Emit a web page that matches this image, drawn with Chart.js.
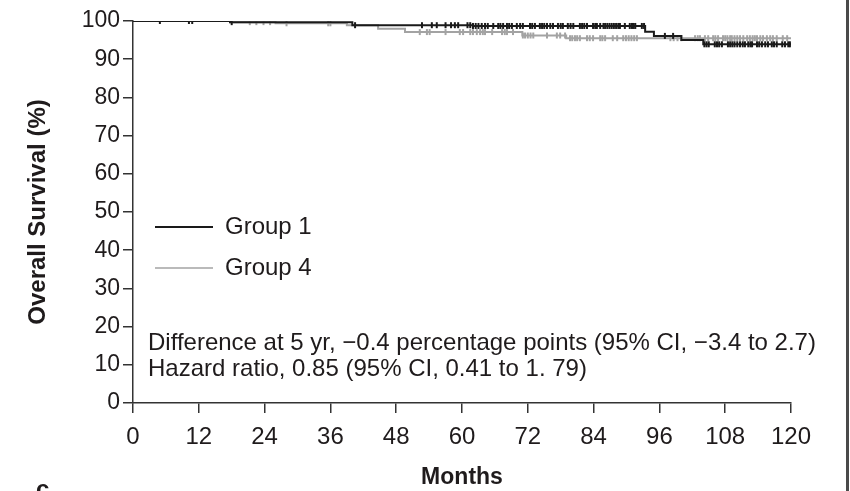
<!DOCTYPE html>
<html>
<head>
<meta charset="utf-8">
<script src="https://cdn.jsdelivr.net/npm/chart.js@4.4.1/dist/chart.umd.min.js"></script>
<style>
  html, body { margin: 0; padding: 0; background: #fff; }
  #wrap { width: 850px; height: 491px; position: relative; }
</style>
</head>
<body>
<div id="wrap"><canvas id="survChart"></canvas></div>
<script>
// Kaplan-Meier steps (months, % surviving)
const group1Months = [0, 17.7, 40, 62, 93.4, 95, 100, 104];
const group1Surv   = [100, 99.7, 98.9, 98.7, 97.2, 96.1, 95.0, 93.9];
const group4Months = [0, 17.7, 26, 39, 44.7, 49.6, 71, 79];
const group4Surv   = [100, 99.7, 99.4, 98.9, 98.0, 97.1, 96.2, 95.5];
const followUpEnd = 120;

// censoring marks (months)
const group1Censored = [4.9, 10.2, 10.8, 18, 40.5, 52.7, 54.5, 55.4, 57, 58, 58.7, 59.3,
  61, 61.5, 62, 62.5, 63, 63.6, 64.2, 64.7, 65.7, 66.6, 67, 67.5, 68.2, 68.6, 69.1, 70, 70.6,
  71.1, 72.4, 72.8, 73.3, 74.2, 74.6, 75, 75.5, 76.1, 76.6, 77.5, 78, 78.4, 79.3, 79.8, 80.3,
  81.5, 81.9, 82.3, 82.8, 83.9, 84.3, 84.6, 85.2, 85.8, 86.1, 86.5, 86.9, 87.3, 87.7, 88.1, 88.5, 88.8,
  89.7, 90.6, 91, 91.3, 91.6, 92.8, 93.2, 97, 98.5,
  104.2, 104.6, 105, 106.1, 106.5, 106.9, 107.4, 108.5, 108.9, 109.3, 109.7, 110.2, 110.7, 111.2, 111.6,
  112.2, 112.6, 112.9, 113.8, 114.2, 114.7, 115.3, 115.8, 116.5, 116.9, 117.4, 118.4, 118.9, 119.5, 119.8];
const group4Censored = [21.3, 22.5, 23.8, 25, 28, 35.6, 36, 52.3, 53.6, 54.1, 57, 59.6, 60.2,
  61.5, 62, 62.7, 63.3, 63.8, 64.2, 65.5, 67.3, 67.8, 68.2, 69.3, 71.1, 71.5, 72, 72.5, 73, 75.5,
  77.3, 77.9, 78.8, 79.7, 80.1, 80.6, 81, 81.5, 82.8, 83.3, 83.9, 85.2, 85.6, 86.1, 87.5, 88.3,
  89.4, 89.9, 90.4, 90.9, 91.4, 91.9, 98, 98.6, 99.3, 100,
  102.5, 103, 103.4, 104.3, 104.9, 105.8, 106.2, 106.7, 107.6, 108, 108.4, 108.9, 109.2, 109.7,
  110.2, 110.7, 111.3, 112, 112.5, 113, 113.4, 113.8, 114.4, 114.9, 115.6, 116.2, 116.7, 117.4, 118.5, 119.3];

const yTicks = [0, 10, 20, 30, 40, 50, 60, 70, 80, 90, 100];
const xTicks = [0, 12, 24, 36, 48, 60, 72, 84, 96, 108, 120];

const seriesNames = ['Group 1', 'Group 4'];
const seriesColors = ['#1a1a1a', '#a3a3a3'];
const noteLines = [
  'Difference at 5 yr, \u22120.4 percentage points (95% CI, \u22123.4 to 2.7)',
  'Hazard ratio, 0.85 (95% CI, 0.41 to 1. 79)'
];

const FONT = "'Liberation Sans', 'DejaVu Sans', sans-serif";
const TEXT = '#1f1b1c';

function curvePoints(months, surv) {
  const pts = months.map((m, i) => ({ x: m, y: surv[i] }));
  pts.push({ x: followUpEnd, y: surv[surv.length - 1] });
  return pts;
}

function survAt(months, surv, t) {
  let s = surv[0];
  for (let i = 0; i < months.length; i++) {
    if (months[i] <= t) s = surv[i];
  }
  return s;
}

function censorPoints(times, months, surv) {
  return times.map(t => ({ x: t, y: survAt(months, surv, t) }));
}

const extras = {
  id: 'extras',
  afterDraw(chart) {
    const ctx = chart.ctx;
    ctx.save();
    // legend
    const legY = [227, 268];
    seriesNames.forEach((name, i) => {
      ctx.strokeStyle = seriesColors[i];
      ctx.lineWidth = i === 0 ? 2 : 1.5;
      ctx.beginPath();
      ctx.moveTo(155, legY[i]);
      ctx.lineTo(213, legY[i]);
      ctx.stroke();
      ctx.fillStyle = TEXT;
      ctx.font = '24px ' + FONT;
      ctx.textBaseline = 'middle';
      ctx.fillText(name, 225, legY[i]);
    });
    // notes
    ctx.font = '24px ' + FONT;
    ctx.fillStyle = TEXT;
    ctx.fillText(noteLines[0], 148, 343);
    ctx.fillText(noteLines[1], 148, 369);
    // page border at right and fragment of next panel letter
    ctx.fillStyle = '#4a4a4a';
    ctx.fillRect(846, 0, 3, 491);
    ctx.fillStyle = TEXT;
    ctx.font = 'bold 24px ' + FONT;
    ctx.textBaseline = 'alphabetic';
    ctx.fillText('c', 36, 497);
    ctx.restore();
  }
};

new Chart(document.getElementById('survChart'), {
  type: 'scatter',
  data: {
    datasets: [
      {
        label: seriesNames[0],
        data: curvePoints(group1Months, group1Surv),
        showLine: true,
        stepped: true,
        borderColor: seriesColors[0],
        borderWidth: 2,
        pointRadius: 0
      },
      {
        label: seriesNames[0] + ' censored',
        data: censorPoints(group1Censored, group1Months, group1Surv),
        showLine: false,
        pointStyle: 'line',
        rotation: 90,
        pointRadius: 3,
        borderColor: seriesColors[0],
        borderWidth: 2
      },
      {
        label: seriesNames[1],
        data: curvePoints(group4Months, group4Surv),
        showLine: true,
        stepped: true,
        borderColor: seriesColors[1],
        borderWidth: 2,
        pointRadius: 0
      },
      {
        label: seriesNames[1] + ' censored',
        data: censorPoints(group4Censored, group4Months, group4Surv),
        showLine: false,
        pointStyle: 'line',
        rotation: 90,
        pointRadius: 3,
        borderColor: seriesColors[1],
        borderWidth: 2
      }
    ]
  },
  options: {
    responsive: true,
    maintainAspectRatio: false,
    animation: false,
    layout: { padding: { left: 0, top: 21, right: 59, bottom: 0 } },
    plugins: { legend: { display: false }, tooltip: { enabled: false } },
    scales: {
      x: {
        type: 'linear',
        min: 0,
        max: 120,
        afterBuildTicks: s => { s.ticks = xTicks.map(v => ({ value: v })); },
        afterFit: s => { s.height = 88; },
        border: { color: '#333', width: 1.5 },
        grid: { drawOnChartArea: false, tickLength: 10, color: '#333', lineWidth: 1.5 },
        ticks: { color: TEXT, padding: 10, font: { family: FONT, size: 24 } },
        title: {
          display: true,
          text: 'Months',
          color: TEXT,
          padding: { top: 0, bottom: 0 },
          font: { family: FONT, size: 23, weight: 'bold' }
        }
      },
      y: {
        min: 0,
        max: 100,
        afterBuildTicks: s => { s.ticks = yTicks.map(v => ({ value: v })); },
        afterFit: s => { s.width = 133; },
        border: { color: '#333', width: 1.5 },
        grid: { drawOnChartArea: false, tickLength: 10, color: '#333', lineWidth: 1.5 },
        ticks: { color: TEXT, padding: 3, font: { family: FONT, size: 23 } },
        title: {
          display: true,
          text: 'Overall Survival (%)',
          color: TEXT,
          padding: { top: 24, bottom: 0 },
          font: { family: FONT, size: 24, weight: 'bold' }
        }
      }
    }
  },
  plugins: [extras]
});
</script>
</body>
</html>
